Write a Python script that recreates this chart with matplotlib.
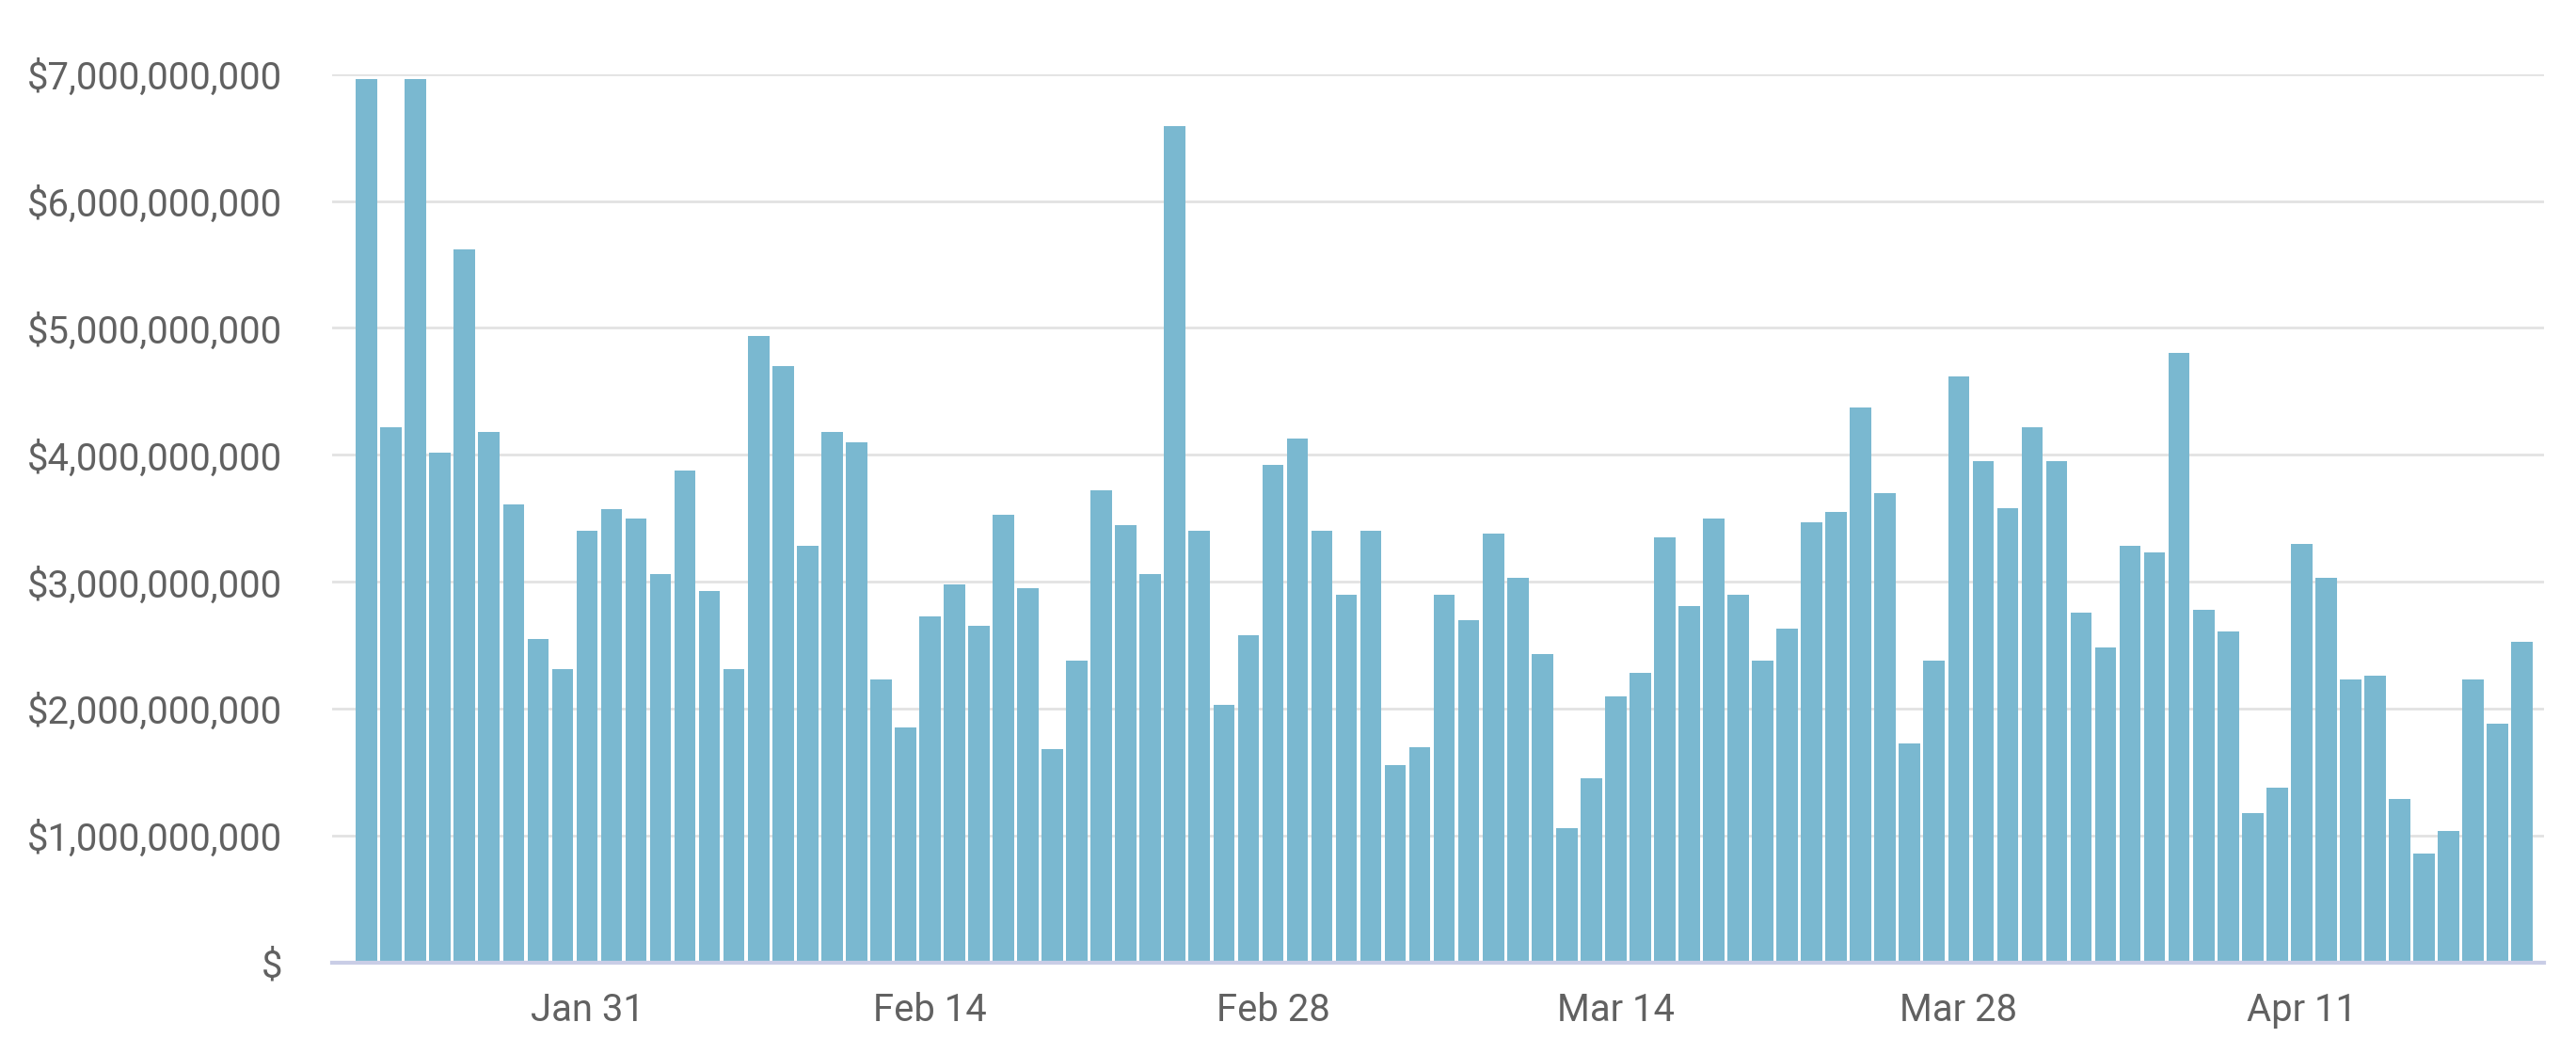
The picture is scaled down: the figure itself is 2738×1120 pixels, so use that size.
import matplotlib
matplotlib.use('Agg')
from matplotlib import pyplot as plt
from matplotlib.ticker import FuncFormatter

# daily totals, Jan 22 - Apr 20 (billions of dollars)
values_bn = [
    6.96, 4.22, 6.96, 4.02, 5.62, 4.18, 3.61, 2.55, 2.31, 3.40,
    3.57, 3.50, 3.06, 3.88, 2.93, 2.31, 4.94, 4.70, 3.28, 4.18,
    4.10, 2.23, 1.85, 2.73, 2.98, 2.65, 3.53, 2.95, 1.68, 2.38,
    3.72, 3.45, 3.06, 6.59, 3.40, 2.03, 2.58, 3.92, 4.13, 3.40,
    2.90, 3.40, 1.56, 1.70, 2.90, 2.70, 3.38, 3.03, 2.43, 1.06,
    1.45, 2.10, 2.28, 3.35, 2.81, 3.50, 2.90, 2.38, 2.63, 3.47,
    3.55, 4.37, 3.70, 1.73, 2.38, 4.62, 3.95, 3.58, 4.22, 3.95,
    2.76, 2.48, 3.28, 3.23, 4.80, 2.78, 2.61, 1.18, 1.38, 3.30,
    3.03, 2.23, 2.26, 1.29, 0.86, 1.04, 2.23, 1.88, 2.53,
]
values = [v * 1e9 for v in values_bn]

# tick positions (day index from Jan 22) and their labels
tick_idx = [9, 23, 37, 51, 65, 79]
tick_labels = ['Jan 31', 'Feb 14', 'Feb 28', 'Mar 14', 'Mar 28', 'Apr 11']
y_ticks = [0, 1e9, 2e9, 3e9, 4e9, 5e9, 6e9, 7e9]

plt.rcParams['font.family'] = ['Roboto', 'DejaVu Sans']

fig = plt.figure(figsize=(13.69, 5.6), dpi=200)
ax = fig.add_axes([0.129, 0.0866, 0.8586, 0.8432])

ax.bar(range(len(values)), values, width=0.87, color='#7ab8d0', zorder=2)

ax.set_xlim(-1.4, len(values) - 0.1)
ax.set_ylim(0, 7e9)

ax.set_yticks(y_ticks)
ax.yaxis.set_major_formatter(FuncFormatter(lambda v, p: '$' if v == 0 else f'${v:,.0f}'))
ax.set_xticks(tick_idx)
ax.set_xticklabels(tick_labels)

ax.tick_params(axis='both', length=0, labelsize=14.4, colors='#616161')
ax.tick_params(axis='y', pad=19)
ax.tick_params(axis='x', pad=11)

ax.grid(axis='y', color='#e2e2e2', linewidth=1.0, zorder=0)
for s in ['top', 'right', 'left']:
    ax.spines[s].set_visible(False)
ax.spines['bottom'].set_color('#c9cde6')
ax.spines['bottom'].set_linewidth(1.5)
ax.spines['bottom'].set_zorder(3)

fig.savefig('out.png', dpi=200)
